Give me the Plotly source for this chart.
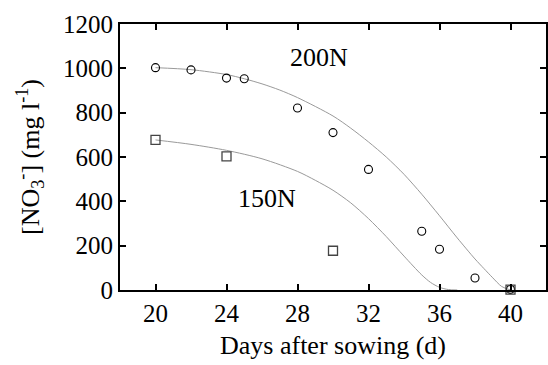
import plotly.graph_objects as go

days_200 = [20, 22, 24, 25, 28, 30, 32, 35, 36, 38, 40]
no3_200 = [1003, 993, 956, 953, 821, 710, 544, 265, 184, 54, 3]

days_150 = [20, 24, 30, 40]
no3_150 = [677, 603, 177, 2]

# Fitted curves
fit_x_200 = [20, 22, 24, 25, 26, 27, 28, 30, 31, 32, 33, 34, 35, 36, 37, 38, 38.5, 39, 39.5, 40]
fit_y_200 = [1003, 994, 972, 953, 930, 902, 868, 785, 730, 668, 600, 522, 432, 335, 235, 140, 97, 55, 16, 0]

fit_x_150 = [20, 22, 24, 26, 28, 29, 30, 31, 32, 33, 34, 35, 35.5, 36, 36.5, 37]
fit_y_150 = [677, 657, 630, 592, 535, 495, 450, 393, 322, 241, 153, 68, 34, 12, 2, 0]

x_ticks = [20, 24, 28, 32, 36, 40]
y_ticks = [0, 200, 400, 600, 800, 1000, 1200]

FONT = "Liberation Serif"

fig = go.Figure()
fig.add_trace(go.Scatter(x=fit_x_200, y=fit_y_200, mode="lines",
                         line=dict(color="#9a9a9a", width=1, shape="spline", smoothing=0.8),
                         hoverinfo="skip", showlegend=False))
fig.add_trace(go.Scatter(x=fit_x_150, y=fit_y_150, mode="lines",
                         line=dict(color="#9a9a9a", width=1, shape="spline", smoothing=0.8),
                         hoverinfo="skip", showlegend=False))
fig.add_trace(go.Scatter(x=days_200, y=no3_200, mode="markers", name="200N",
                         marker=dict(symbol="circle-open", size=8, color="black",
                                     line=dict(width=1.1, color="black")),
                         cliponaxis=False, showlegend=False))
fig.add_trace(go.Scatter(x=days_150, y=no3_150, mode="markers", name="150N",
                         marker=dict(symbol="square-open", size=9, color="#444444",
                                     line=dict(width=1.3, color="#444444")),
                         cliponaxis=False, showlegend=False))

fig.add_annotation(x=29.2, y=1050, text="200N", showarrow=False,
                   font=dict(family=FONT, size=26, color="black"))
fig.add_annotation(x=26.3, y=415, text="150N", showarrow=False,
                   font=dict(family=FONT, size=26, color="black"))

axis_common = dict(showline=True, linecolor="black", linewidth=2, mirror="allticks",
                   ticks="inside", ticklen=6, tickwidth=2, tickcolor="black",
                   showgrid=False, zeroline=False, automargin=False,
                   tickfont=dict(family=FONT, size=25, color="black"))

fig.update_xaxes(range=[18, 42], tickvals=x_ticks,
                 title=dict(text="Days after sowing (d)",
                            font=dict(family=FONT, size=26, color="black"), standoff=10),
                 **axis_common)
fig.update_yaxes(range=[0, 1200], tickvals=y_ticks,
                 title=dict(text="[NO<sub>3</sub><sup>-</sup>] (mg l<sup>-1</sup>)",
                            font=dict(family=FONT, size=26, color="black"), standoff=16),
                 **axis_common)

fig.update_layout(width=548, height=365,
                  margin=dict(l=120, r=2, t=24, b=75),
                  paper_bgcolor="white", plot_bgcolor="white",
                  template="none",
                  showlegend=False)

fig.write_html("out.html", config={"displayModeBar": False},
               post_script="document.body.style.margin='0';document.body.style.overflow='hidden';")
